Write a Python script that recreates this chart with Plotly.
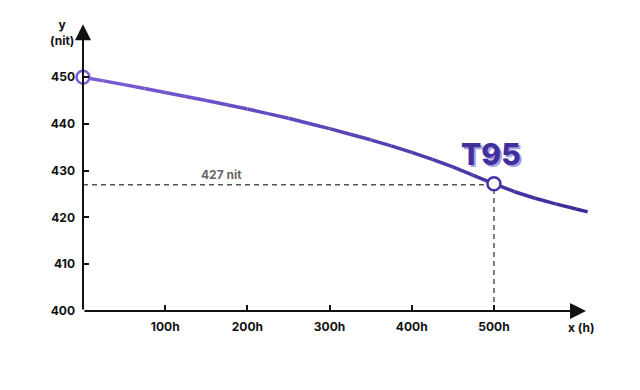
import plotly.graph_objects as go

# ---- data ----
hours = [0, 25, 50, 75, 100, 125, 150, 175, 200, 225, 250, 275, 300, 325, 350,
         375, 400, 425, 450, 475, 500, 525, 550, 575, 600, 614]
nits = [450.0, 449.2, 448.4, 447.55, 446.7, 445.85, 445.0, 444.1, 443.2, 442.2,
        441.2, 440.1, 439.0, 437.8, 436.6, 435.3, 433.9, 432.4, 430.8, 429.0,
        427.2, 425.5, 424.1, 422.9, 421.8, 421.2]
key_hours = [0, 500]
key_nits = [450.0, 427.2]
t95_hour = 500
t95_nit = 427
x_tick_vals = [100, 200, 300, 400, 500]
x_tick_text = ["100h", "200h", "300h", "400h", "500h"]
y_tick_vals = [400, 410, 420, 430, 440, 450]
y_tick_text = ["400", "410", "420", "430", "440", "450"]

FONT = "Inter"
c0 = (0x7a, 0x5c, 0xd4)
c1 = (0x3a, 0x2b, 0x98)


def mix(t):
    return "rgb(%d,%d,%d)" % tuple(round(a + (b - a) * t) for a, b in zip(c0, c1))


# the page body adds an 8px offset; compensate so the picture lines up
OFF = 8
W, H = 640 - OFF, 390 - OFF
ML, MR, MT = 83 - OFF, 31, 21 - OFF
plot_w = W - ML - MR
plot_h = 290
MB = H - MT - plot_h


def px_x(px):
    return (px - OFF - ML) / plot_w


def px_y(py):
    return (H - MB - (py - OFF)) / plot_h


fig = go.Figure()

# dashed guides
fig.add_trace(go.Scatter(x=[0, t95_hour], y=[t95_nit, t95_nit], mode="lines",
                         line=dict(color="#555555", width=1.5, dash="5px,4px"),
                         hoverinfo="skip", showlegend=False))
fig.add_trace(go.Scatter(x=[t95_hour, t95_hour], y=[400, t95_nit], mode="lines",
                         line=dict(color="#555555", width=1.5, dash="5px,4px"),
                         hoverinfo="skip", showlegend=False))

# gradient curve as segments
n = len(hours)
for i in range(n - 1):
    t = hours[i] / hours[-1]
    fig.add_trace(go.Scatter(x=hours[i:i + 2], y=nits[i:i + 2], mode="lines",
                             line=dict(color=mix(t), width=3.5),
                             hoverinfo="skip", showlegend=False, cliponaxis=False))

fig.add_trace(go.Scatter(x=key_hours, y=key_nits, mode="markers",
                         marker=dict(size=13, color="white",
                                     line=dict(color=[mix(0.0), mix(0.82)], width=2.5)),
                         cliponaxis=False, showlegend=False))

annotations = [
    # axes arrows
    dict(x=612, y=400, ax=0, ay=400, xref="x", yref="y", axref="x", ayref="y",
         text="", showarrow=True, arrowhead=2, arrowsize=1.6, arrowwidth=2, arrowcolor="#111111"),
    dict(x=0, y=461.3, ax=0, ay=400, xref="x", yref="y", axref="x", ayref="y",
         text="", showarrow=True, arrowhead=2, arrowsize=1.6, arrowwidth=2, arrowcolor="#111111"),
    # axis titles
    dict(x=px_x(62), y=px_y(33), xref="paper", yref="paper",
         xanchor="center", yanchor="middle",
         text="y<br>(nit)", showarrow=False,
         font=dict(family=FONT, size=12, color="#111111", weight=700)),
    dict(x=px_x(566), y=px_y(327), xref="paper", yref="paper",
         xanchor="left", yanchor="middle",
         text="x (h)", showarrow=False,
         font=dict(family=FONT, size=12, color="#111111", weight=700)),
    # 427 nit label
    dict(x=169, y=t95_nit, xref="x", yref="y", text="427 nit", showarrow=False,
         yanchor="bottom", yshift=1,
         font=dict(family=FONT, size=12, color="#666666", weight=700)),
    # T95 with shadow
    dict(x=497, y=433.6, xref="x", yref="y", text="T95", showarrow=False,
         font=dict(family=FONT, size=30, color="#40309c", weight=800,
                   shadow="2px 2px 0px #aaa0e0")),
]

fig.update_layout(
    width=W, height=H,
    margin=dict(l=ML, r=MR, t=MT, b=MB, autoexpand=False),
    paper_bgcolor="white", plot_bgcolor="white",
    xaxis=dict(range=[0, 640], showgrid=False, zeroline=False, showline=False,
               automargin=False,
               tickmode="array", tickvals=x_tick_vals, ticktext=x_tick_text,
               ticks="inside", ticklen=6, tickwidth=2, tickcolor="#111111",
               ticklabelstandoff=7,
               tickfont=dict(family=FONT, size=12, color="#111111", weight=700)),
    yaxis=dict(range=[400, 462], showgrid=False, zeroline=False, showline=False,
               automargin=False,
               tickmode="array", tickvals=y_tick_vals, ticktext=y_tick_text,
               ticks="inside", ticklen=6, tickwidth=2, tickcolor="#111111",
               ticklabelstandoff=7,
               tickfont=dict(family=FONT, size=12, color="#111111", weight=700)),
    annotations=annotations,
    showlegend=False,
)

fig.write_html("out.html")
